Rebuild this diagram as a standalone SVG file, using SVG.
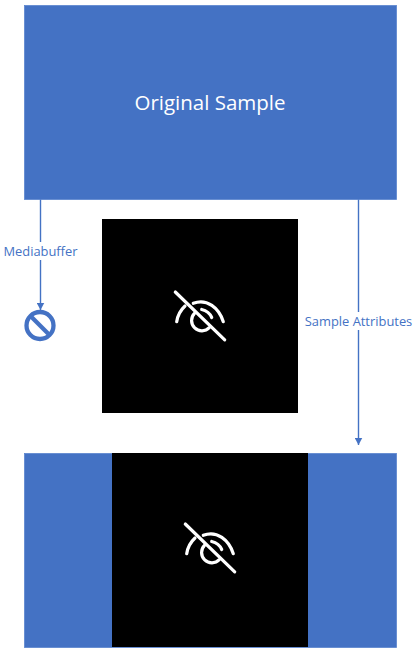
<svg xmlns="http://www.w3.org/2000/svg" width="415" height="653" viewBox="0 0 415 653">
<style>
.box{fill:#4472c4;stroke:#5b86cf;stroke-width:.8}
.black{fill:#000}
.conn{stroke:#4472c4;stroke-width:1.4;fill:none}
.lbl{font-family:"Open Sans","Noto Sans",sans-serif;font-size:12.9px;fill:#4472c4;text-anchor:middle}
.icon{fill:none;stroke:#fff;stroke-width:3.2;stroke-linecap:round}
</style>
<defs>
<marker id="arrow" markerUnits="userSpaceOnUse" markerWidth="8" markerHeight="8" refX="7.500" refY="4" orient="auto"><path d="M0 0L7.500 4L0 8Z" fill="#4472c4"/></marker>
<g id="eye-off">
<path d="M-23.300 21.700A27 27 0 0 1-15 6"/>
<path d="M-6.700 3.300C7 -2 19 8 23.300 21.700"/>
<path d="M1.700 9.500C6 10.500 10 13.500 11.700 17.500"/>
<path d="M-5.500 13.300A10.200 10.200 0 1 0 9.300 27.700"/>
<path d="M-24.700 -8L24.700 39.800"/>
</g>
</defs>
<g id="connectors">
<path class="conn" d="M40.500 199V310" marker-end="url(#arrow)"/>
<path class="conn" d="M358.500 199V445" marker-end="url(#arrow)"/>
</g>
<g id="original-sample">
<rect class="box" x="24.500" y="5.500" width="372" height="194"/>
<text x="210" y="110" font-family="'Open Sans','Noto Sans',sans-serif" font-size="20.500" fill="#fff" text-anchor="middle">Original Sample</text>
</g>
<g id="mediabuffer-label">
<rect x="3" y="242" width="75" height="18" fill="#fff"/>
<text class="lbl" x="40.500" y="255.500">Mediabuffer</text>
</g>
<g id="blocked">
<circle cx="40" cy="325.500" r="13.500" fill="none" stroke="#4472c4" stroke-width="4.300"/>
<path d="M31 316.500L49 334.500" stroke="#4472c4" stroke-width="4.300"/>
</g>
<g id="hidden-sample">
<rect class="black" x="102" y="219" width="196" height="194"/>
<use href="#eye-off" x="200" y="300" class="icon"/>
</g>
<g id="attributes-label">
<rect x="304" y="312" width="109" height="18" fill="#fff"/>
<text class="lbl" x="358.500" y="326">Sample Attributes</text>
</g>
<g id="result-sample">
<rect class="box" x="24.500" y="453.500" width="372" height="194"/>
<rect class="black" x="112" y="453" width="196" height="194"/>
<use href="#eye-off" x="210" y="532" class="icon"/>
</g>
</svg>
